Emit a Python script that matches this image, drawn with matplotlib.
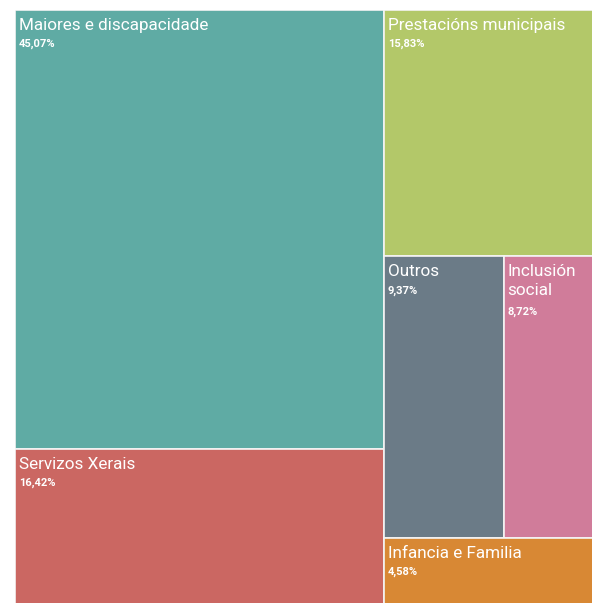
import matplotlib.pyplot as plt
from matplotlib.patches import Rectangle

labels = ["Maiores e discapacidade", "Servizos Xerais", "Prestacións municipais",
          "Outros", "Inclusión\nsocial", "Infancia e Familia"]
values = [45.07, 16.42, 15.83, 9.37, 8.72, 4.58]
pct_text = ["45,07%", "16,42%", "15,83%", "9,37%", "8,72%", "4,58%"]
colors = ["#5fABA4", "#CB6762", "#B3C869", "#6B7B87", "#D07C9A", "#D88834"]

plt.rcParams['font.family'] = ['Roboto', 'DejaVu Sans']

fig = plt.figure(figsize=(5.92, 6.03), dpi=100)
# treemap area runs past the right and bottom edge of the picture
W, H = 592, 603
ax = fig.add_axes([15 / W, (H - 609) / H, 600 / W, 599 / H])
ax.set_xlim(0, 1)
ax.set_ylim(1, 0)
ax.axis('off')

total = sum(values)
left_w = (values[0] + values[1]) / total
right_w = 1 - left_w
right_total = sum(values[2:])

rects = []
# left column
h0 = values[0] / (values[0] + values[1])
rects.append((0, 0, left_w, h0))
rects.append((0, h0, left_w, 1 - h0))
# right column
hp = values[2] / right_total
rects.append((left_w, 0, right_w, hp))
hrow = (values[3] + values[4]) / right_total
wo = values[3] / (values[3] + values[4]) * right_w
rects.append((left_w, hp, wo, hrow))
rects.append((left_w + wo, hp, right_w - wo, hrow))
rects.append((left_w, hp + hrow, right_w, 1 - hp - hrow))

for (x, y, w, h), lab, p, c in zip(rects, labels, pct_text, colors):
    ax.add_patch(Rectangle((x, y), w, h, facecolor=c, edgecolor='#f4f4f4', linewidth=1.2))
    ax.annotate(lab, (x, y), xytext=(4, -8), textcoords='offset pixels',
                ha='left', va='top', color='white', fontsize=12.3, linespacing=1.3)
    nlines = lab.count("\n") + 1
    ax.annotate(p, (x, y), xytext=(4, -8 - 21 * nlines), textcoords='offset pixels',
                ha='left', va='top', color='white', fontsize=8.0, fontweight='bold')

fig.savefig('out.png', dpi=100)
